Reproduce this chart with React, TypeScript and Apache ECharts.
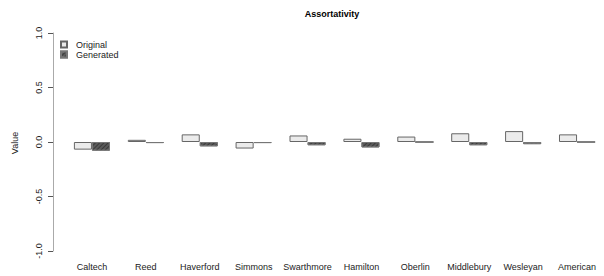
import React, { useEffect, useRef } from "react";
import * as echarts from "echarts";

const categories = ["Caltech", "Reed", "Haverford", "Simmons", "Swarthmore", "Hamilton", "Oberlin", "Middlebury", "Wesleyan", "American"];
const originalValues = [-0.07, 0.02, 0.07, -0.06, 0.06, 0.03, 0.05, 0.08, 0.10, 0.07];
const generatedValues = [-0.08, -0.01, -0.04, -0.01, -0.03, -0.05, 0.0, -0.03, -0.02, 0.0];

const FONT = "'Liberation Sans', Arial, sans-serif";

export default function App() {
  const ref = useRef<HTMLDivElement>(null);
  useEffect(() => {
    if (!ref.current) return;
    const chart = echarts.init(ref.current, null, { renderer: "svg" });
    chart.setOption({
      animation: false,
      backgroundColor: "#ffffff",
      title: {
        text: "Assortativity",
        left: 327,
        top: 4,
        textAlign: "center",
        textStyle: { fontFamily: FONT, fontSize: 9, fontWeight: "bold", color: "#000" },
      },
      legend: {
        left: 55,
        top: 35,
        orient: "vertical",
        icon: "rect",
        itemWidth: 6,
        itemHeight: 6,
        itemGap: 1,
        textStyle: { fontFamily: FONT, fontSize: 9, color: "#222", padding: [0, 0, 0, 4] },
        data: ["Original", "Generated"],
      },
      grid: { left: 65, right: -1, top: 33, bottom: 25, containLabel: false },
      xAxis: {
        type: "category",
        data: categories,
        axisLine: { show: false },
        axisTick: { show: false },
        axisLabel: { fontFamily: FONT, fontSize: 9, color: "#222", margin: 11, interval: 0 },
      },
      yAxis: {
        type: "value",
        min: -1,
        max: 1,
        interval: 0.5,
        offset: 12,
        axisLine: { show: true, lineStyle: { color: "#aaaaaa", width: 1 } },
        axisTick: { show: true, length: 5, lineStyle: { color: "#555" } },
        splitLine: { show: false },
        axisLabel: {
          fontFamily: FONT,
          fontSize: 9,
          color: "#222",
          rotate: 90,
          margin: 10,
          formatter: (v: number) => v.toFixed(1),
        },
      },
      graphic: [
        {
          type: "text",
          x: 15,
          y: 143,
          rotation: Math.PI / 2,
          style: {
            text: "Value",
            fontFamily: FONT,
            fontSize: 9,
            fill: "#222",
            textAlign: "center",
            textVerticalAlign: "middle",
          },
        },
      ],
      series: [
        {
          name: "Original",
          type: "bar",
          data: originalValues,
          barGap: "0%",
          barCategoryGap: "33%",
          itemStyle: { color: "#ebebeb", borderColor: "#666", borderWidth: 1 },
        },
        {
          name: "Generated",
          type: "bar",
          data: generatedValues,
          barGap: "0%",
          barCategoryGap: "33%",
          itemStyle: {
            color: "#5a5a5a",
            borderColor: "#777",
            borderWidth: 1,
            decal: {
              symbol: "rect",
              symbolSize: 1,
              color: "#3a3a3a",
              dashArrayX: [1, 0],
              dashArrayY: [1, 2],
              rotation: -Math.PI / 4,
            },
          },
        },
      ],
    });
    return () => chart.dispose();
  }, []);
  return <div ref={ref} style={{ width: 604, height: 276, position: "absolute", left: 0, top: 0 }} />;
}
